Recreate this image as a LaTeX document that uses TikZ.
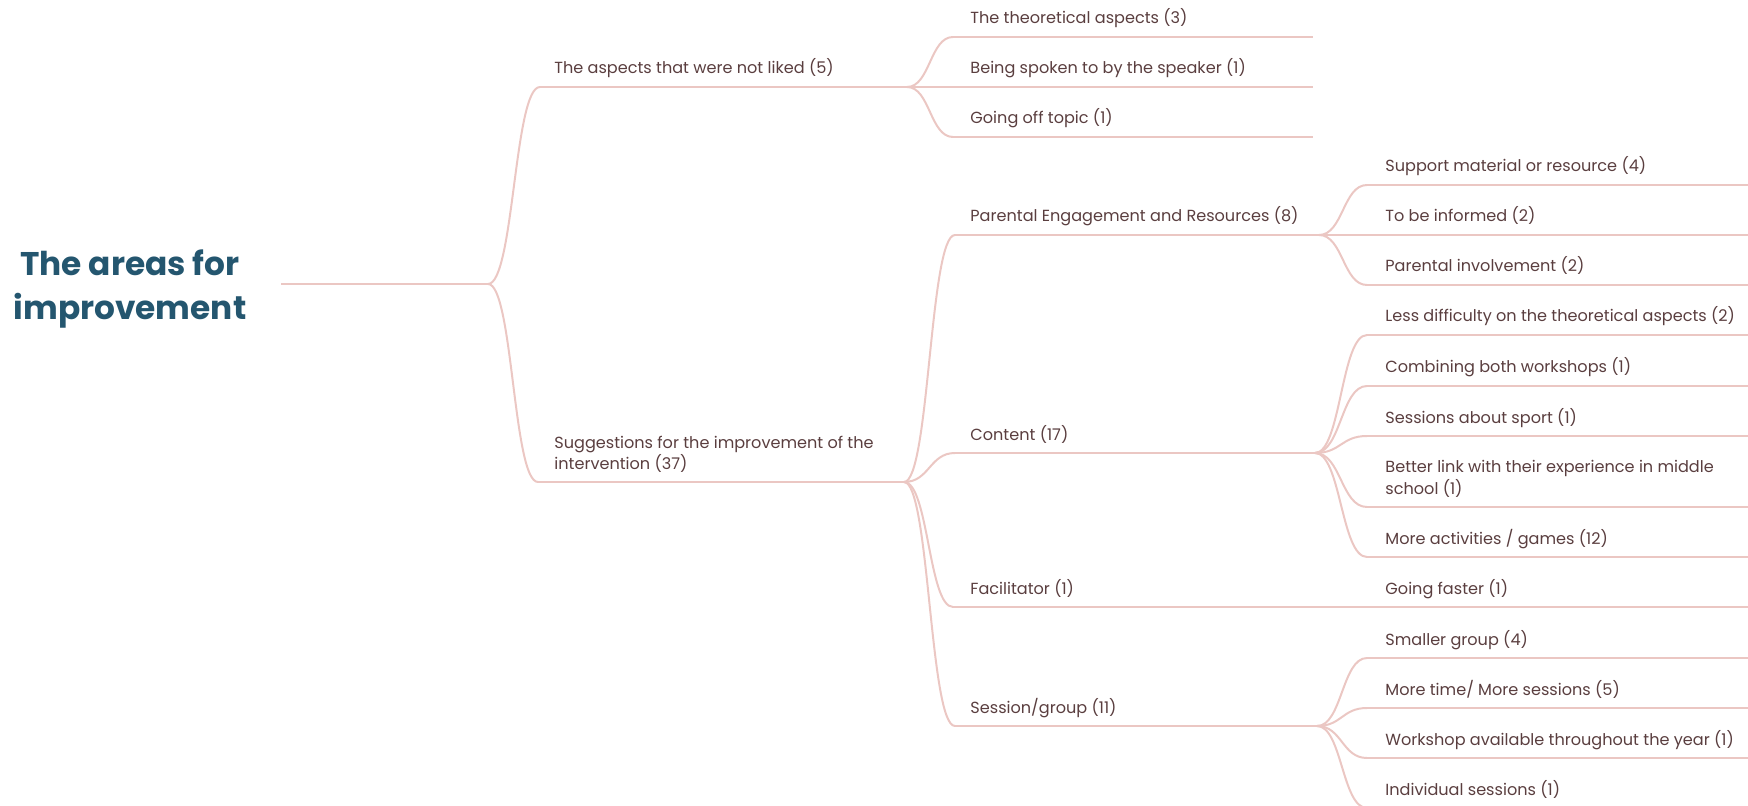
\documentclass[tikz,border=0pt]{standalone}
\usepackage{fontspec}
\setmainfont{Poppins}
\usetikzlibrary{calc}
\definecolor{linepink}{HTML}{EBC7C3}
\definecolor{txtbrown}{HTML}{5A3E3F}
\definecolor{titleblue}{HTML}{24566F}
\begin{document}
\begin{tikzpicture}[x=0.5pt,y=-0.5pt,
  lbl/.style={anchor=base west,inner sep=0pt,text=txtbrown,font=\fontsize{8.05}{10.5}\selectfont,align=left},
  uline/.style={draw=linepink,line width=1pt},
  branch/.style={draw=linepink,line width=1pt,
    to path={let \p1=(\tikztostart), \p2=(\tikztotarget) in
      .. controls ({(\x1+\x2)/2},\y1) and ({(\x1+\x2)/2},\y2) .. (\tikztotarget)}}]
\useasboundingbox (0,0) rectangle (1748,806);

% root
\node[text=titleblue,font=\fontsize{16.4}{22}\selectfont\bfseries,align=center,inner sep=0pt] (root) at (130,289) {The areas for\\improvement};
\coordinate (rootS) at (281,284); \coordinate (rootE) at (488,284);
\draw[uline] (rootS) -- (rootE);

% level 1
\coordinate (aS) at (540,87); \coordinate (aE) at (907,87);
\node[lbl] (a) at (554,74) {The aspects that were not liked (5)};
\coordinate (sS) at (538,482); \coordinate (sE) at (904,482);
\node[lbl] (s) at (554,469) {Suggestions for the improvement of the\\intervention (37)};

% level 2 under a
\coordinate (a1S) at (953,37); \coordinate (a1E) at (1313,37);
\node[lbl] (a1) at (970,24) {The theoretical aspects (3)};
\coordinate (a2S) at (953,87); \coordinate (a2E) at (1313,87);
\node[lbl] (a2) at (970,74) {Being spoken to by the speaker (1)};
\coordinate (a3S) at (953,137); \coordinate (a3E) at (1313,137);
\node[lbl] (a3) at (970,124) {Going off topic (1)};

% level 2 under s
\coordinate (pS) at (955,235); \coordinate (pE) at (1319,235);
\node[lbl] (p) at (970,222) {Parental Engagement and Resources (8)};
\coordinate (cS) at (955,453); \coordinate (cE) at (1315,453);
\node[lbl] (c) at (970,440) {Content (17)};
\coordinate (fS) at (953,607); \coordinate (fE) at (1367,607);
\node[lbl] (f) at (970,594) {Facilitator (1)};
\coordinate (gS) at (955,726); \coordinate (gE) at (1317,726);
\node[lbl] (g) at (970,713) {Session/group (11)};

% level 3
\foreach \n/\y/\t in {
  p1/185/{Support material or resource (4)},
  p2/235/{To be informed (2)},
  p3/285/{Parental involvement (2)},
  c1/335/{Less difficulty on the theoretical aspects (2)},
  c2/386/{Combining both workshops (1)},
  c3/436/{Sessions about sport (1)},
  c5/557/{More activities / games (12)},
  f1/607/{Going faster (1)},
  g1/658/{Smaller group (4)},
  g2/708/{More time/ More sessions (5)},
  g3/758/{Workshop available throughout the year (1)},
  g4/808/{Individual sessions (1)}}{
  \coordinate (\n S) at (1367,\y); \coordinate (\n E) at (1748,\y);
  \node[lbl] (\n) at (1385,\y-13) {\t};
}
\coordinate (c4S) at (1367,507); \coordinate (c4E) at (1748,507);
\node[lbl] (c4) at (1385,494) {Better link with their experience in middle\\school (1)};

% underlines
\foreach \n in {a,s,a1,a2,a3,p,c,f,g,p1,p2,p3,c1,c2,c3,c4,c5,f1,g1,g2,g3,g4}{
  \draw[uline] (\n S) -- (\n E);
}

% branches
\draw[branch] (rootE) to (aS);
\draw[branch] (rootE) to (sS);
\foreach \k in {a1,a2,a3}{\draw[branch] (aE) to (\k S);}
\foreach \k in {p,c,f,g}{\draw[branch] (sE) to (\k S);}
\foreach \k in {p1,p2,p3}{\draw[branch] (pE) to (\k S);}
\foreach \k in {c1,c2,c3,c4,c5}{\draw[branch] (cE) to (\k S);}
\foreach \k in {g1,g2,g3,g4}{\draw[branch] (gE) to (\k S);}
\end{tikzpicture}
\end{document}
